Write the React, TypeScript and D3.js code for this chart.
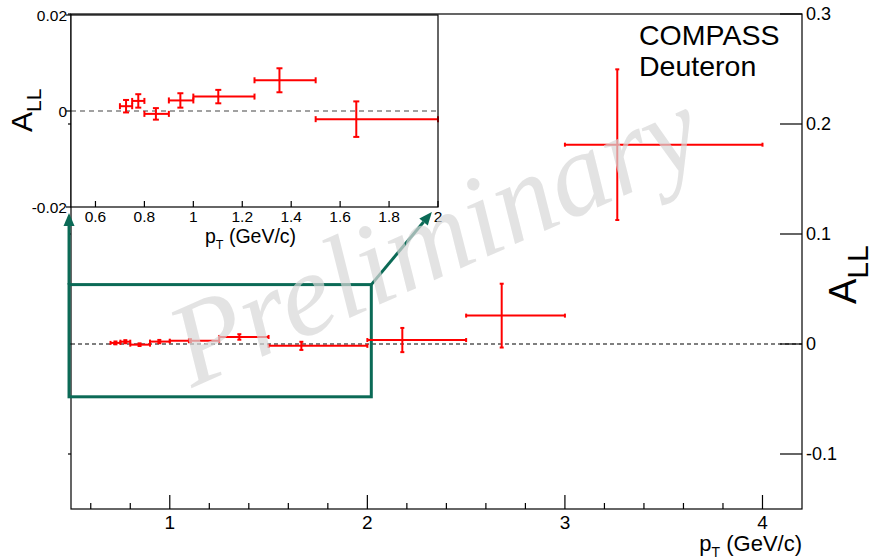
import React from "react";
import * as d3 from "d3";

// bins in pT (GeV/c), A_LL and its statistical error
const binLo = [0.7, 0.75, 0.8, 0.9, 1.0, 1.25, 1.5, 2.0, 2.5, 3.0];
const binHi = [0.75, 0.8, 0.9, 1.0, 1.25, 1.5, 2.0, 2.5, 3.0, 4.0];
const ptMean = [0.725, 0.775, 0.847, 0.947, 1.102, 1.352, 1.666, 2.177, 2.68, 3.265];
const allVal = [0.001, 0.0021, -0.0006, 0.0022, 0.003, 0.0064, -0.0017, 0.0036, 0.0258, 0.1812];
const allErr = [0.0013, 0.0014, 0.0012, 0.0015, 0.0014, 0.0025, 0.0037, 0.011, 0.029, 0.0685];

const mainYTicks = [-0.1, 0, 0.1, 0.2, 0.3];
const mainXMajor = [1, 2, 3, 4];
const insetYTicks = [-0.02, 0, 0.02];
const insetXTicks = [0.6, 0.8, 1, 1.2, 1.4, 1.6, 1.8, 2];
const insetCount = 7; // points shown in the zoom

const W = 873;
const H = 559;
const FONT = "'Liberation Sans', Arial, Helvetica, sans-serif";
const RED = "#ff0000";
const GREEN = "#0b6a56";

const points = binLo.map((lo, i) => ({
  lo,
  hi: binHi[i],
  x: ptMean[i],
  y: allVal[i],
  e: allErr[i],
}));

function ErrorBars({ data, x, y, cap, sw }) {
  return (
    <g stroke={RED} strokeWidth={sw} fill="none">
      {data.map((d, i) => {
        const cx = x(d.x);
        const cy = y(d.y);
        const x0 = x(d.lo);
        const x1 = x(d.hi);
        const y0 = y(d.y + d.e);
        const y1 = y(d.y - d.e);
        return (
          <g key={i}>
            <line x1={x0} x2={x1} y1={cy} y2={cy} />
            <line x1={cx} x2={cx} y1={y0} y2={y1} />
            <line x1={x0} x2={x0} y1={cy - cap} y2={cy + cap} />
            <line x1={x1} x2={x1} y1={cy - cap} y2={cy + cap} />
            <line x1={cx - cap} x2={cx + cap} y1={y0} y2={y0} />
            <line x1={cx - cap} x2={cx + cap} y1={y1} y2={y1} />
          </g>
        );
      })}
    </g>
  );
}

function Arrow({ x1, y1, x2, y2 }) {
  const ang = Math.atan2(y2 - y1, x2 - x1);
  const len = 13;
  const half = 5.5;
  const bx = x2 - len * Math.cos(ang);
  const by = y2 - len * Math.sin(ang);
  const px = -Math.sin(ang) * half;
  const py = Math.cos(ang) * half;
  return (
    <g>
      <line x1={x1} y1={y1} x2={bx} y2={by} stroke={GREEN} strokeWidth={3} />
      <path d={`M${x2},${y2}L${bx + px},${by + py}L${bx - px},${by - py}Z`} fill={GREEN} />
    </g>
  );
}

export default function App() {
  // main frame
  const x = d3.scaleLinear().domain([0.5, 4.2]).range([71, 802]);
  const y = d3.scaleLinear().domain([-0.15, 0.3]).range([509, 14]);
  // inset frame
  const ix = d3.scaleLinear().domain([0.5, 2]).range([71, 438]);
  const iy = d3.scaleLinear().domain([-0.02, 0.02]).range([207, 15]);

  const minor = d3.range(3, 21).map((k) => k / 5);

  // zoom box drawn around the low-pT region
  const boxL = x(0.49);
  const boxR = x(2.02);
  const boxT = y(0.054);
  const boxB = y(-0.048);

  return (
    <svg
      width={W}
      height={H}
      style={{ position: "absolute", left: 0, top: 0, background: "#fff" }}
      fontFamily={FONT}
    >
      <rect width={W} height={H} fill="#fff" />

      {/* main frame */}
      <g stroke="#000" strokeWidth={1.2} fill="none">
        <rect x={x(0.5)} y={y(0.3)} width={x(4.2) - x(0.5)} height={y(-0.15) - y(0.3)} />
        {minor.map((v) => {
          const major = Math.abs(v - Math.round(v)) < 1e-6;
          return (
            <line key={v} x1={x(v)} x2={x(v)} y1={y(-0.15)} y2={y(-0.15) - (major ? 14 : 6)} />
          );
        })}
        {mainYTicks.map((v) => (
          <g key={v}>
            <line x1={x(4.2)} x2={x(4.2) - 22} y1={y(v)} y2={y(v)} />
            <line x1={x(0.5)} x2={x(0.5) - 3} y1={y(v)} y2={y(v)} />
          </g>
        ))}
      </g>
      <line
        x1={x(0.5)}
        x2={x(4.2)}
        y1={y(0)}
        y2={y(0)}
        stroke="#000"
        strokeWidth={1.1}
        strokeDasharray="4,3"
      />
      {mainYTicks.map((v) => (
        <text key={v} x={x(4.2) + 4} y={y(v) + 6} fontSize={18}>
          {v === 0 ? "0" : String(v)}
        </text>
      ))}
      {mainXMajor.map((v) => (
        <text key={v} x={x(v)} y={529} fontSize={19} textAnchor="middle">
          {v}
        </text>
      ))}
      <text x={802} y={551} fontSize={22} textAnchor="end">
        p<tspan fontSize={14} dy={6}>T</tspan>
        <tspan dy={-6}> (GeV/c)</tspan>
      </text>
      <text transform={`translate(856,304) rotate(-90)`} fontSize={38}>
        A<tspan fontSize={30} dy={12}>LL</tspan>
      </text>
      <text x={639} y={45} fontSize={28.5}>COMPASS</text>
      <text x={639} y={76} fontSize={28.5}>Deuteron</text>

      {/* zoom box and arrows */}
      <rect
        x={boxL}
        y={boxT}
        width={boxR - boxL}
        height={boxB - boxT}
        fill="none"
        stroke={GREEN}
        strokeWidth={3}
      />
      <Arrow x1={boxL} y1={boxT} x2={boxL} y2={iy(-0.02) + 6} />
      <Arrow x1={boxR} y1={boxT} x2={ix(1.975)} y2={iy(-0.02) + 5} />

      <ErrorBars data={points} x={x} y={y} cap={2} sw={2} />

      {/* inset */}
      <rect x={ix(0.5)} y={iy(0.02)} width={ix(2) - ix(0.5)} height={iy(-0.02) - iy(0.02)} fill="#fff" />
      <line
        x1={ix(0.5)}
        x2={ix(2)}
        y1={iy(0)}
        y2={iy(0)}
        stroke="#444"
        strokeWidth={1.2}
        strokeDasharray="5,4"
      />
      <ErrorBars data={points.slice(0, insetCount)} x={ix} y={iy} cap={3} sw={2} />
      <g stroke="#000" strokeWidth={1.2} fill="none">
        <rect x={ix(0.5)} y={iy(0.02)} width={ix(2) - ix(0.5)} height={iy(-0.02) - iy(0.02)} />
        {insetXTicks.map((v) => (
          <line key={v} x1={ix(v)} x2={ix(v)} y1={iy(-0.02)} y2={iy(-0.02) - 6} />
        ))}
        {insetYTicks.map((v) => (
          <line key={v} x1={ix(0.5)} x2={ix(0.5) - 5} y1={iy(v)} y2={iy(v)} />
        ))}
      </g>
      {insetYTicks.map((v) => (
        <text key={v} x={ix(0.5) - 4} y={iy(v) + 5.5} fontSize={15.5} textAnchor="end">
          {v === 0 ? "0" : String(v)}
        </text>
      ))}
      {insetXTicks.map((v) => (
        <text key={v} x={ix(v)} y={222} fontSize={15.5} textAnchor="middle">
          {String(v)}
        </text>
      ))}
      <text x={205} y={243} fontSize={19.5}>
        p<tspan fontSize={12.5} dy={6}>T</tspan>
        <tspan dy={-6}> (GeV/c)</tspan>
      </text>
      <text transform={`translate(32,132) rotate(-90)`} fontSize={30}>
        A<tspan fontSize={21} dy={9}>LL</tspan>
      </text>

      {/* watermark */}
      <text
        transform={`translate(192,388) rotate(-24)`}
        fontFamily="'Liberation Serif', 'Times New Roman', serif"
        fontStyle="italic"
        fontSize={118}
        fill="#d8d8d8"
        opacity={0.7}
      >
        Preliminary
      </text>
    </svg>
  );
}
